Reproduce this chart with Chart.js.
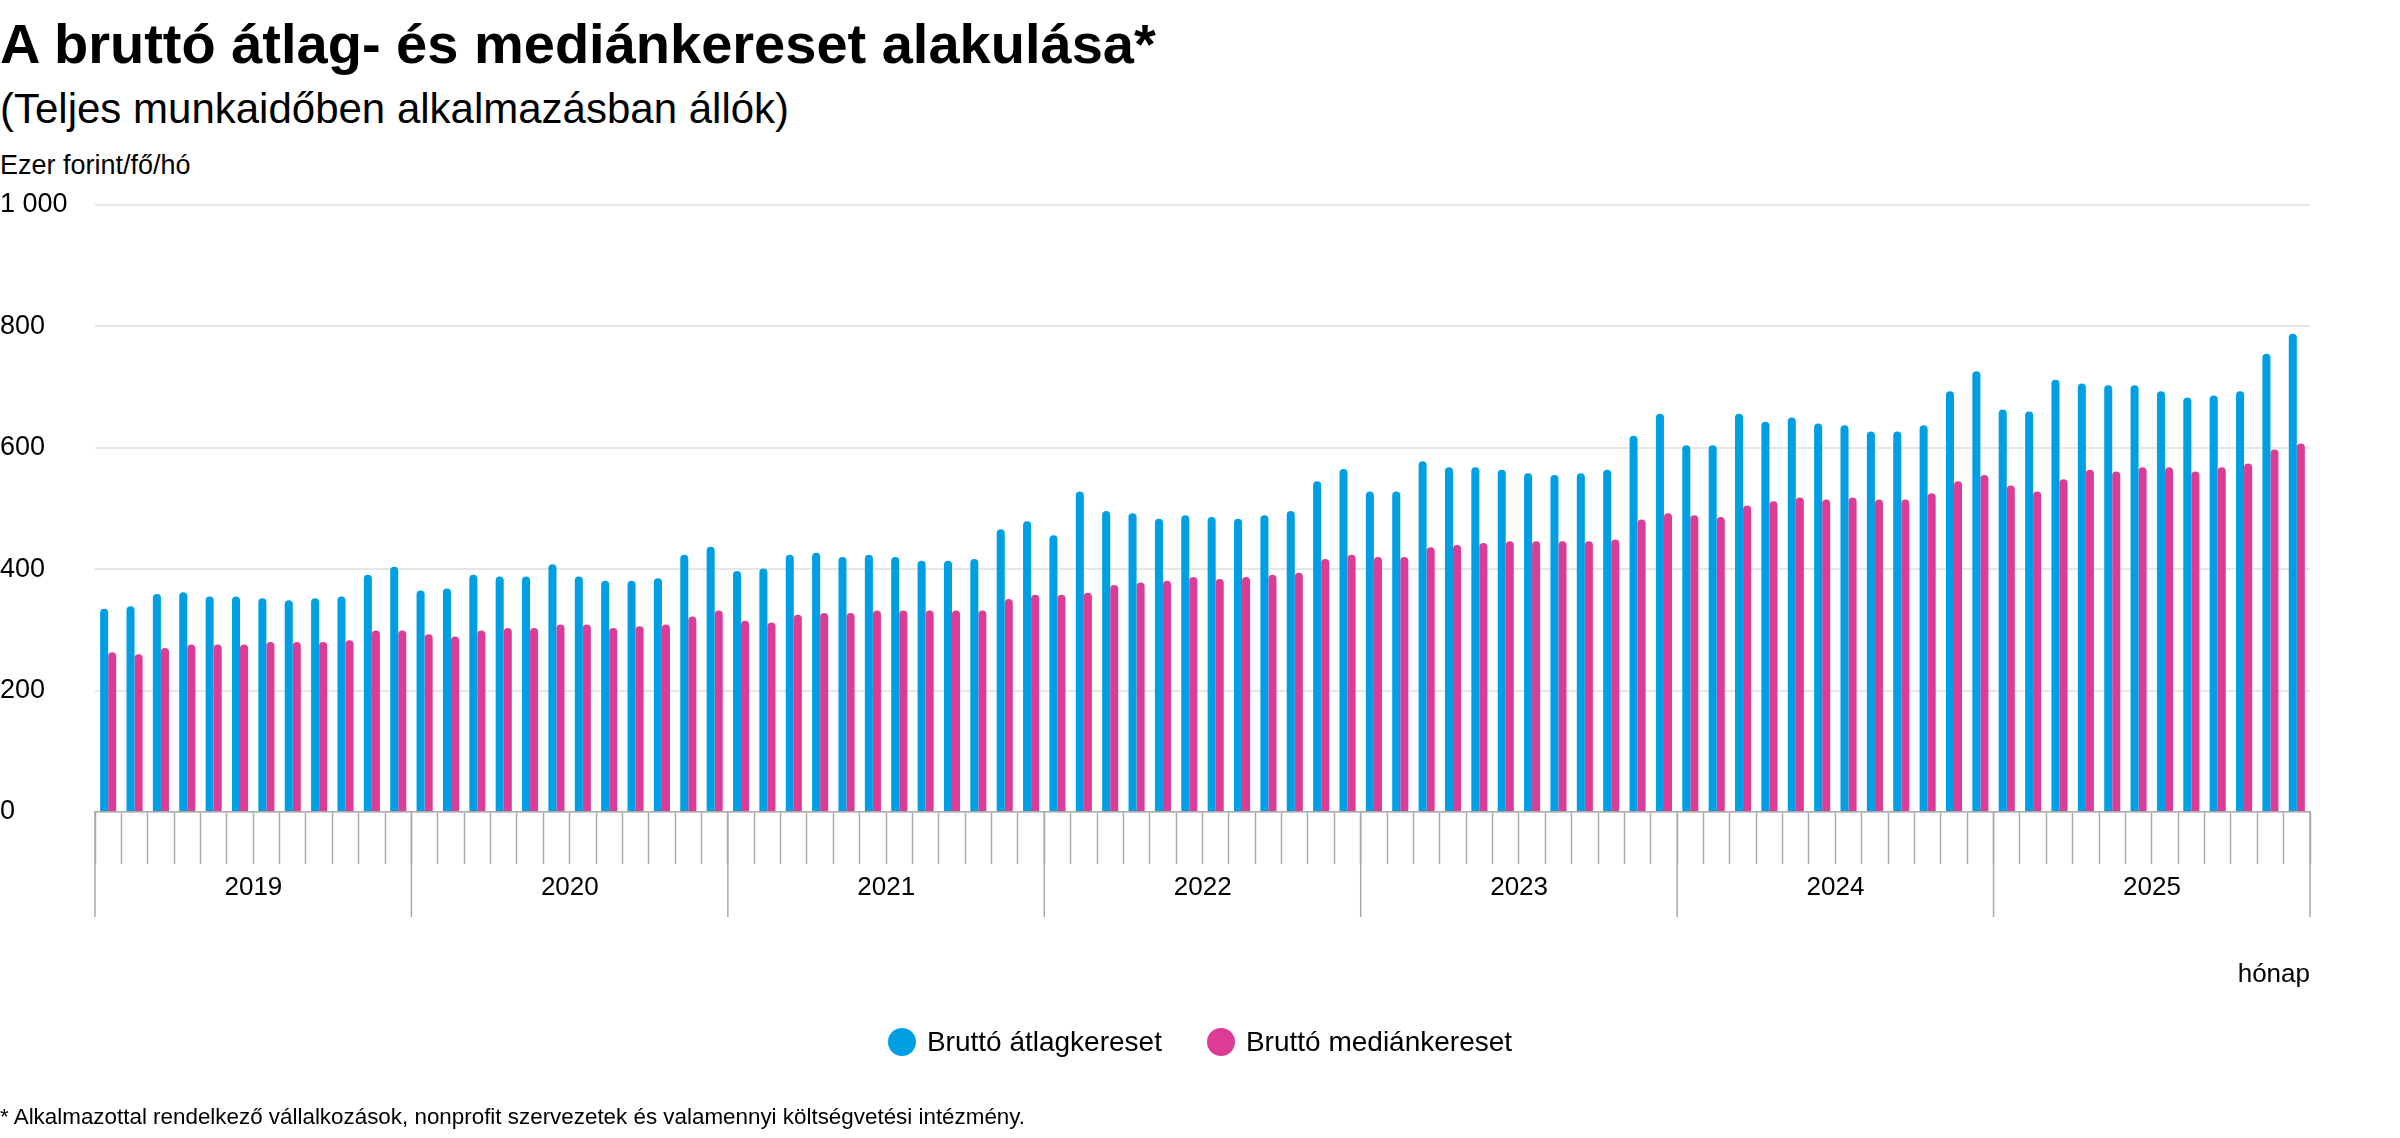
<!DOCTYPE html>
<html lang="hu">
<head>
<meta charset="utf-8">
<title>A bruttó átlag- és mediánkereset alakulása</title>
<script src="https://cdn.jsdelivr.net/npm/chart.js@4.4.1/dist/chart.umd.min.js"></script>
<style>
    html, body {
        margin: 0;
        padding: 0;
        background: #fff;
    }
    body {
        position: relative;
        width: 2400px;
        height: 1138px;
        overflow: hidden;
        font-family: "Liberation Sans", Arial, sans-serif;
        color: #000;
    }
    .txt {
        position: absolute;
        line-height: 1;
        white-space: nowrap;
    }
    #title { left: 0; top: 16px; font-size: 56px; font-weight: bold; }
    #subtitle { left: 0; top: 88px; font-size: 42px; }
    #unit { left: 0; top: 152px; font-size: 27px; }
    #xTitle { right: 90px; top: 960px; font-size: 26px; }
    #footnote { left: 0; top: 1106px; font-size: 22.4px; }
    #legend {
        position: absolute;
        left: 0;
        width: 2400px;
        top: 1028px;
        display: flex;
        justify-content: center;
        align-items: center;
        font-size: 28px;
        line-height: 28px;
    }
    #legend .item { display: flex; align-items: center; }
    #legend .item + .item { margin-left: 45px; }
    #legend .dot {
        width: 28px;
        height: 28px;
        border-radius: 50%;
        margin-right: 11px;
    }
    #wageChart { position: absolute; left: 0; top: 0; }
</style>
</head>
<body>
<div class="txt" id="title">A bruttó átlag- és mediánkereset alakulása*</div>
<div class="txt" id="subtitle">(Teljes munkaidőben alkalmazásban állók)</div>
<div class="txt" id="unit">Ezer forint/fő/hó</div>
<canvas id="wageChart" width="2400" height="1138"></canvas>
<div class="txt" id="xTitle">hónap</div>
<div id="legend"></div>
<div class="txt" id="footnote">* Alkalmazottal rendelkező vállalkozások, nonprofit szervezetek és valamennyi költségvetési intézmény.</div>

<script>
const years = ['2019', '2020', '2021', '2022', '2023', '2024', '2025'];
const months = ['01', '02', '03', '04', '05', '06', '07', '08', '09', '10', '11', '12'];

// ezer forint/fő/hó, havonta 2019.01 - 2025.12
const avgWage = [
    335, 339, 359, 362, 355, 355, 352, 349, 352, 355, 391, 404,
    365, 368, 391, 388, 388, 408, 388, 381, 381, 385, 424, 437,
    397, 401, 424, 427, 420, 424, 420, 414, 414, 417, 466, 479,
    456, 528, 496, 492, 483, 489, 486, 483, 489, 496, 545, 565,
    528, 528, 578, 568, 568, 564, 558, 555, 558, 564, 620, 656,
    604, 604, 656, 643, 650, 640, 637, 627, 627, 637, 693, 726,
    663, 660, 712, 706, 703, 703, 693, 683, 686, 693, 755, 788
];
const medianWage = [
    263, 260, 270, 276, 276, 276, 280, 280, 280, 283, 299, 299,
    293, 289, 299, 303, 303, 309, 309, 303, 306, 309, 322, 332,
    315, 312, 325, 328, 328, 332, 332, 332, 332, 332, 351, 358,
    358, 361, 374, 378, 381, 387, 384, 387, 391, 394, 417, 424,
    420, 420, 436, 440, 443, 446, 446, 446, 446, 449, 482, 492,
    489, 486, 505, 512, 518, 515, 518, 515, 515, 525, 545, 555,
    538, 528, 548, 564, 561, 568, 568, 561, 568, 574, 597, 607
];
const seriesNames = ['Bruttó átlagkereset', 'Bruttó mediánkereset'];
const seriesColors = ['#009fe3', '#dc3c96'];
const yTicks = [0, 200, 400, 600, 800, 1000];

const labels = [];
years.forEach(y => months.forEach(m => labels.push(y + '.' + m + '.')));

// legend
const legendBox = document.getElementById('legend');
seriesNames.forEach((name, i) => {
    const item = document.createElement('div');
    item.className = 'item';
    item.innerHTML = `<span class="dot" style="background:${seriesColors[i]}"></span><span>${name}</span>`;
    legendBox.appendChild(item);
});

// year separators below the axis (longer than the monthly ticks)
const yearLines = {
    id: 'yearLines',
    afterDraw(chart) {
        const x = chart.scales.x;
        const half = (x.getPixelForValue(1) - x.getPixelForValue(0)) / 2;
        const ctx = chart.ctx;
        ctx.save();
        ctx.strokeStyle = '#aaaaaa';
        ctx.lineWidth = 1.5;
        for (let k = 0; k <= years.length; k++) {
            const px = k < years.length
                ? x.getPixelForValue(k * 12) - half
                : x.getPixelForValue(labels.length - 1) + half;
            ctx.beginPath();
            ctx.moveTo(px, chart.chartArea.bottom);
            ctx.lineTo(px, 917);
            ctx.stroke();
        }
        ctx.restore();
    }
};

Chart.defaults.font.family = '"Liberation Sans", Arial, sans-serif';
Chart.defaults.color = '#000';

new Chart(document.getElementById('wageChart').getContext('2d'), {
    type: 'bar',
    data: {
        labels: labels,
        datasets: [{
            label: seriesNames[0],
            data: avgWage,
            backgroundColor: seriesColors[0]
        }, {
            label: seriesNames[1],
            data: medianWage,
            backgroundColor: seriesColors[1]
        }]
    },
    options: {
        responsive: false,
        animation: false,
        devicePixelRatio: 1,
        layout: {
            padding: { top: 205, right: 90, bottom: 216, left: 0 }
        },
        datasets: {
            bar: {
                categoryPercentage: 0.61,
                barPercentage: 1,
                borderRadius: 4,
                borderSkipped: 'start'
            }
        },
        plugins: {
            legend: { display: false },
            tooltip: { enabled: false },
            title: { display: false }
        },
        scales: {
            x: {
                grid: {
                    drawOnChartArea: false,
                    drawTicks: true,
                    tickLength: 52,
                    tickColor: '#aaaaaa',
                    tickWidth: 1.5
                },
                border: { display: true, color: '#aaaaaa', width: 1.5 },
                ticks: {
                    autoSkip: false,
                    maxRotation: 0,
                    minRotation: 0,
                    padding: 8,
                    labelOffset: -13,
                    font: { size: 26 },
                    color: '#000',
                    callback: (val, i) => (i % 12 === 6 ? years[Math.floor(i / 12)] : '')
                },
                afterFit(scale) { scale.height = 110; }
            },
            y: {
                min: 0,
                max: 1000,
                afterBuildTicks(scale) {
                    scale.ticks = yTicks.map(v => ({ value: v }));
                },
                grid: {
                    color: '#e6e6e6',
                    lineWidth: 2,
                    drawTicks: false
                },
                border: { display: false },
                ticks: {
                    crossAlign: 'far',
                    padding: 0,
                    font: { size: 27 },
                    color: '#000',
                    callback: v => v.toLocaleString('en-US').replace(/,/g, ' ')
                },
                afterFit(scale) { scale.width = 95; }
            }
        }
    },
    plugins: [yearLines]
});
</script>
</body>
</html>
